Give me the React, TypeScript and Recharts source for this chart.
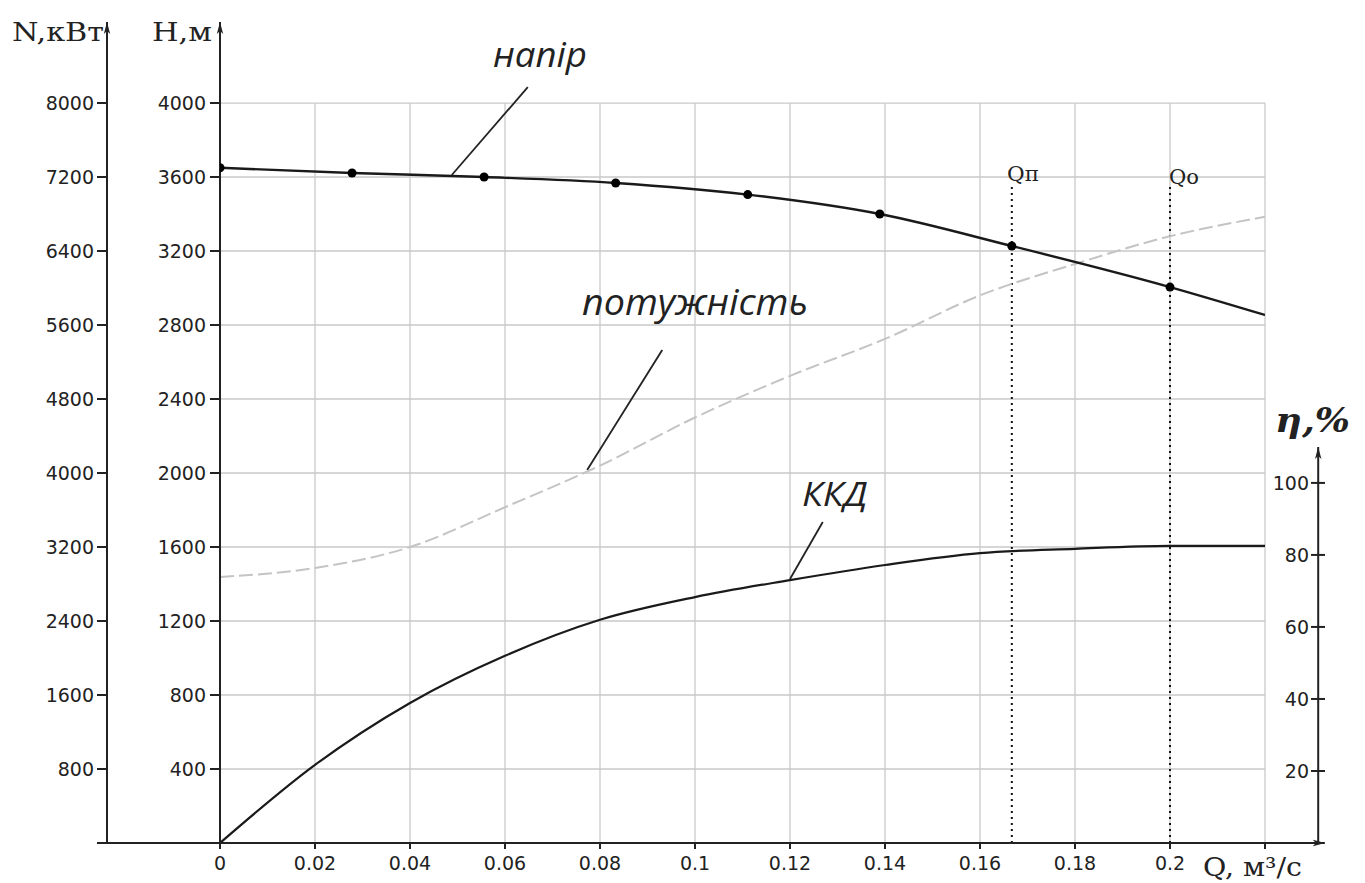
import React from "react";
import {
  ComposedChart,
  Line,
  Scatter,
  XAxis,
  YAxis,
  ReferenceLine,
} from "recharts";

// flow rate, m3/s
const qTicks = [0, 0.02, 0.04, 0.06, 0.08, 0.1, 0.12, 0.14, 0.16, 0.18, 0.2, 0.22];
const hTicks = [400, 800, 1200, 1600, 2000, 2400, 2800, 3200, 3600, 4000];
const nTicks = [800, 1600, 2400, 3200, 4000, 4800, 5600, 6400, 7200, 8000];
const etaTicks = [20, 40, 60, 80, 100];

// head (напір): measured points + curve end
const measuredQ = [0, 0.0278, 0.0556, 0.0833, 0.1111, 0.1389, 0.1667, 0.2];
const measuredH = [3650, 3622, 3600, 3568, 3505, 3400, 3227, 3005];
const headEndQ = 0.22;
const headEndH = 2854;

// power (потужність), kW and efficiency (ККД), %
const curveQ = [0, 0.02, 0.04, 0.06, 0.08, 0.1, 0.12, 0.14, 0.16, 0.18, 0.2, 0.22];
const powerN = [2876, 2973, 3200, 3630, 4080, 4600, 5050, 5450, 5920, 6260, 6560, 6770];
const etaPct = [0, 21.7, 38.9, 52, 62, 68.3, 73, 77.2, 80.5, 81.7, 82.5, 82.5];

// Qп and Qо operating points
const qNom = 0.1667;
const qOpt = 0.2;

const headPoints = measuredQ.map((q, i) => ({ q, h: measuredH[i] }));
const headCurve = [...headPoints, { q: headEndQ, h: headEndH }];
const powerCurve = curveQ.map((q, i) => ({ q, n: powerN[i] }));
const etaCurve = curveQ.map((q, i) => ({ q, eta: etaPct[i] }));

// axis ranges (top of plot = arrow tips)
const H_MAX = 4438;
const N_MAX = 8876;
const ETA_MAX = 228;

// annotation leader lines, in (Q, H) units
const leaders = [
  [{ x: 0.0648, y: 4086 }, { x: 0.0488, y: 3611 }],
  [{ x: 0.0931, y: 2665 }, { x: 0.0773, y: 2016 }],
  [{ x: 0.1269, y: 1735 }, { x: 0.12, y: 1427 }],
];

const tickStyle = { fontSize: 19, fill: "#222", fontFamily: "DejaVu Sans" };
const axisStroke = "#222";
const gridStroke = "#c9c9c9";

const EtaTick = (props: any) => {
  const { x, y, payload } = props;
  return (
    <g>
      <line x1={x + 46} x2={x + 60} y1={y} y2={y} stroke={axisStroke} strokeWidth={2} />
      <text x={x + 44} y={y} dy="0.355em" textAnchor="end" {...tickStyle}>
        {payload.value}
      </text>
    </g>
  );
};

const W = 1357;
const H = 875;

export default function App() {
  return (
    <div style={{ position: "relative", width: W, height: H, background: "#fff" }}>
      <ComposedChart
        width={W}
        height={H}
        margin={{ top: 14, right: 10, bottom: 10, left: 39 }}
      >
        <XAxis
          type="number"
          dataKey="q"
          domain={[0, 0.22]}
          ticks={qTicks}
          allowDataOverflow
          axisLine={false}
          tickLine={{ stroke: axisStroke, strokeWidth: 2 }}
          tickSize={6}
          tickMargin={8}
          height={30}
          tick={tickStyle}
          tickFormatter={(v: number) => (v === 0.22 ? "" : String(v))}
        />
        <YAxis
          yAxisId="H"
          type="number"
          domain={[0, H_MAX]}
          ticks={hTicks}
          allowDataOverflow
          width={113}
          axisLine={{ stroke: axisStroke, strokeWidth: 2, markerStart: "url(#arr)" }}
          tickLine={{ stroke: axisStroke, strokeWidth: 2 }}
          tickSize={10}
          tickMargin={4}
          tick={tickStyle}
        />
        <YAxis
          yAxisId="N"
          type="number"
          domain={[0, N_MAX]}
          ticks={nTicks}
          allowDataOverflow
          width={60}
          axisLine={{ stroke: axisStroke, strokeWidth: 2, markerStart: "url(#arr)" }}
          tickLine={{ stroke: axisStroke, strokeWidth: 2 }}
          tickSize={10}
          tickMargin={3}
          tick={tickStyle}
        />
        <YAxis
          yAxisId="eta"
          orientation="right"
          type="number"
          domain={[0, ETA_MAX]}
          ticks={etaTicks}
          allowDataOverflow
          width={90}
          axisLine={false}
          tickLine={false}
          tickSize={0}
          tickMargin={0}
          tick={<EtaTick />}
        />

        {/* grid */}
        {hTicks.map((h) => (
          <ReferenceLine
            key={"h" + h}
            yAxisId="H"
            y={h}
            stroke={gridStroke}
            strokeWidth={1.3}
          />
        ))}
        {qTicks.slice(1).map((q) => (
          <ReferenceLine
            key={"g" + q}
            yAxisId="H"
            segment={[{ x: q, y: 0 }, { x: q, y: 4000 }]}
            stroke={gridStroke}
            strokeWidth={1.3}
            ifOverflow="visible"
          />
        ))}

        {[qNom, qOpt].map((q) => (
          <ReferenceLine
            key={"d" + q}
            yAxisId="H"
            segment={[{ x: q, y: 0 }, { x: q, y: 3557 }]}
            stroke="#111"
            strokeWidth={2}
            strokeDasharray="2 4"
            ifOverflow="visible"
          />
        ))}

        {/* extended Q axis with arrow */}
        <ReferenceLine
          yAxisId="H"
          segment={[{ x: -0.0259, y: 0 }, { x: 0.2326, y: 0 }]}
          stroke={axisStroke}
          strokeWidth={2.2}
          markerEnd="url(#arr)"
          ifOverflow="visible"
        />
        {/* η axis line */}
        <ReferenceLine
          yAxisId="eta"
          segment={[{ x: 0.2312, y: 0 }, { x: 0.2312, y: 110 }]}
          stroke={axisStroke}
          strokeWidth={2}
          markerEnd="url(#arr)"
          ifOverflow="visible"
        />

        {leaders.map((seg, i) => (
          <ReferenceLine
            key={"l" + i}
            yAxisId="H"
            segment={seg}
            stroke="#222"
            strokeWidth={1.8}
            ifOverflow="visible"
          />
        ))}

        <Line
          yAxisId="N"
          data={powerCurve}
          dataKey="n"
          type="monotone"
          stroke="#c4c4c4"
          strokeWidth={2}
          strokeDasharray="14 5"
          dot={false}
          isAnimationActive={false}
        />
        <Line
          yAxisId="eta"
          data={etaCurve}
          dataKey="eta"
          type="monotone"
          stroke="#1a1a1a"
          strokeWidth={2.2}
          dot={false}
          isAnimationActive={false}
        />
        <Line
          yAxisId="H"
          data={headCurve}
          dataKey="h"
          type="monotone"
          stroke="#1a1a1a"
          strokeWidth={2.4}
          dot={false}
          isAnimationActive={false}
        />
        <Scatter
          yAxisId="H"
          data={headPoints}
          dataKey="h"
          fill="#000"
          isAnimationActive={false}
        />
      </ComposedChart>

      <svg
        width={W}
        height={H}
        style={{ position: "absolute", left: 0, top: 0, pointerEvents: "none" }}
      >
        <defs>
          <marker
            id="arr"
            viewBox="0 0 12 8"
            refX="12"
            refY="4"
            markerWidth="12"
            markerHeight="8"
            markerUnits="userSpaceOnUse"
            orient="auto-start-reverse"
          >
            <path d="M0,0.8 L12,4 L0,7.2 L3,4 z" fill="#222" />
          </marker>
        </defs>
        <g fontFamily="DejaVu Serif" fill="#222">
          <text x={4} y={33} fontSize={26} textLength={92} lengthAdjust="spacingAndGlyphs">
            N,кВт
          </text>
          <text x={144} y={33} fontSize={26} textLength={60} lengthAdjust="spacingAndGlyphs">
            H,м
          </text>
          <text x={1195} y={868} fontSize={26} textLength={99} lengthAdjust="spacingAndGlyphs">
            Q, м³/с
          </text>
          <text x={999} y={173} fontSize={20} textLength={32} lengthAdjust="spacingAndGlyphs">
            Qп
          </text>
          <text x={1161} y={176} fontSize={20} textLength={30} lengthAdjust="spacingAndGlyphs">
            Qо
          </text>
          <text
            x={1267}
            y={424}
            fontSize={34}
            fontStyle="italic"
            fontWeight="bold"
            textLength={75}
            lengthAdjust="spacingAndGlyphs"
          >
            η,%
          </text>
        </g>
        <g fontFamily="Open Sans" fontStyle="italic" fill="#222">
          <text x={485} y={59} fontSize={35} textLength={94} lengthAdjust="spacingAndGlyphs">
            напір
          </text>
          <text x={574} y={307} fontSize={36} textLength={226} lengthAdjust="spacingAndGlyphs">
            потужність
          </text>
          <text x={794} y={498} fontSize={33} textLength={65} lengthAdjust="spacingAndGlyphs">
            ККД
          </text>
        </g>
      </svg>
    </div>
  );
}
